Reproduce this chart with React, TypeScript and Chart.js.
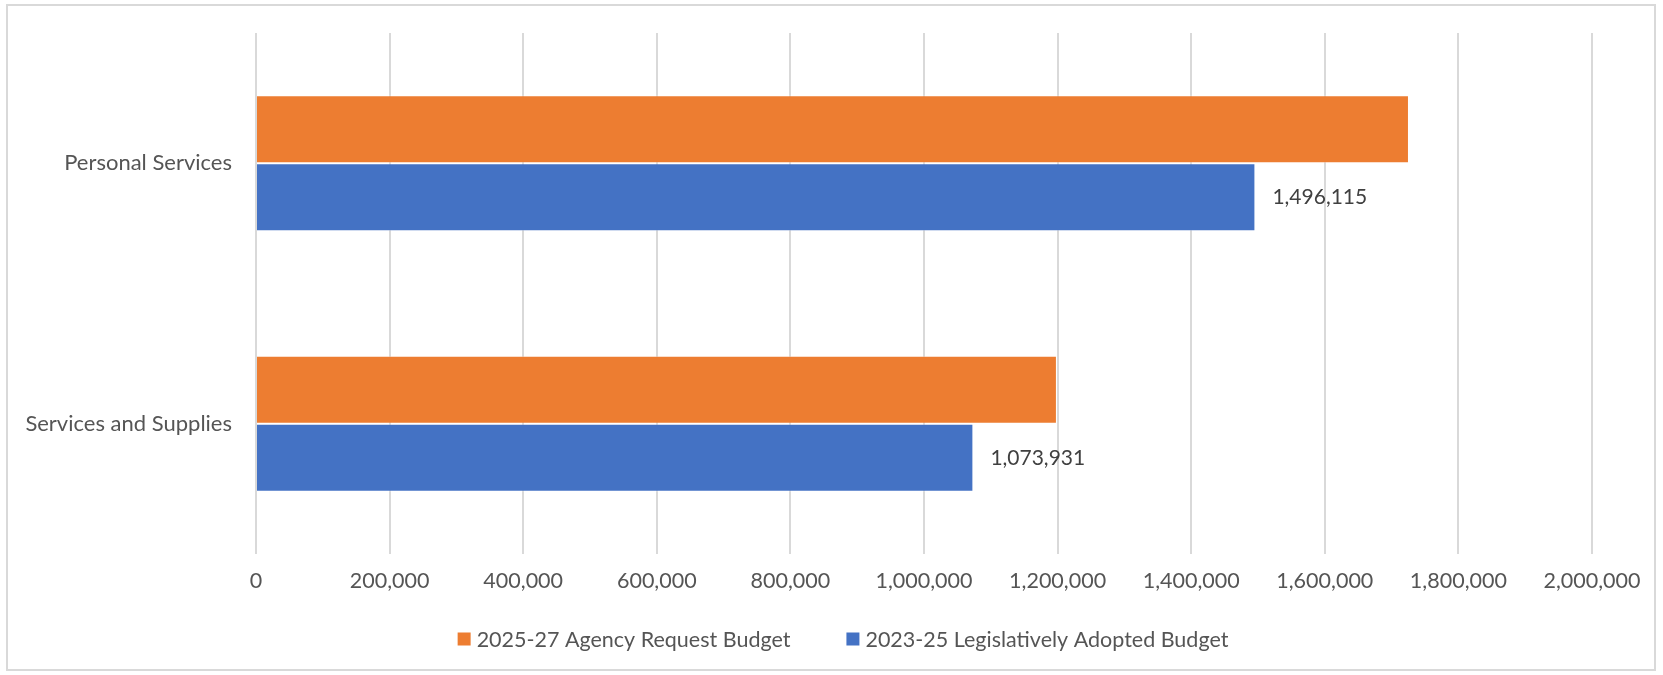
import React, { useEffect, useRef } from 'react';
import { Chart, registerables } from 'chart.js';

Chart.register(...registerables);

const categories = ['Personal Services', 'Services and Supplies'];
const seriesLabels = ['2025-27 Agency Request Budget', '2023-25 Legislatively Adopted Budget'];
const agencyRequest = [1726000, 1199000];
const legislativelyAdopted = [1496115, 1073931];
const axisMin = 0;
const axisMax = 2000000;
const axisStep = 200000;

const orange = '#ED7D31';
const blue = '#4472C4';
const textColor = '#555555';
const gridColor = '#D9D9D9';
const fontFamily = 'Lato, "Open Sans", sans-serif';
const fontSize = 21.5;

const fmt = (v: number) => Number(v).toLocaleString('en-US');

const framePlugin = {
  id: 'frame',
  beforeDraw(chart: any) {
    const { ctx, width, height } = chart;
    ctx.save();
    ctx.fillStyle = '#ffffff';
    ctx.fillRect(0, 0, width, height);
    ctx.strokeStyle = gridColor;
    ctx.lineWidth = 2;
    ctx.strokeRect(7, 5, 1648, 665);
    ctx.restore();
  },
};

const valueLabelPlugin = {
  id: 'valueLabels',
  afterDatasetsDraw(chart: any) {
    const { ctx } = chart;
    const meta = chart.getDatasetMeta(1);
    ctx.save();
    ctx.font = `21px ${fontFamily}`;
    ctx.fillStyle = '#404040';
    ctx.textAlign = 'left';
    ctx.textBaseline = 'middle';
    meta.data.forEach((bar: any, i: number) => {
      const v = chart.data.datasets[1].data[i];
      ctx.fillText(fmt(v), bar.x + 17, bar.y);
    });
    ctx.restore();
  },
};

// Legend drawn with Excel-like spacing (box, small gap, label, wide gap)
const legendPlugin = {
  id: 'excelLegend',
  afterDraw(chart: any) {
    const { ctx } = chart;
    const box = 13;
    const gapBoxText = 6;
    const gapItems = 56;
    const centerX = 843;
    const centerY = chart.chartArea.bottom + 85;
    ctx.save();
    ctx.font = `${fontSize}px ${fontFamily}`;
    ctx.textBaseline = 'middle';
    ctx.textAlign = 'left';
    const items = chart.data.datasets.map((ds: any) => ({
      label: ds.label as string,
      color: ds.backgroundColor as string,
      w: ctx.measureText(ds.label).width,
    }));
    const total =
      items.reduce((s: number, it: any) => s + box + gapBoxText + it.w, 0) +
      gapItems * (items.length - 1);
    let x = centerX - total / 2;
    items.forEach((it: any) => {
      ctx.fillStyle = it.color;
      ctx.fillRect(x, centerY - box / 2, box, box);
      ctx.fillStyle = textColor;
      ctx.fillText(it.label, x + box + gapBoxText, centerY + 1);
      x += box + gapBoxText + it.w + gapItems;
    });
    ctx.restore();
  },
};

export default function App() {
  const ref = useRef<HTMLCanvasElement | null>(null);

  useEffect(() => {
    document.body.style.margin = '0';
    const canvas = ref.current;
    if (!canvas) return;
    const chart = new Chart(canvas, {
      type: 'bar',
      data: {
        labels: categories,
        datasets: [
          {
            label: seriesLabels[0],
            data: agencyRequest,
            backgroundColor: orange,
            borderColor: 'rgba(255,255,255,0.35)',
            borderWidth: 1,
            categoryPercentage: 0.523,
            barPercentage: 1,
          },
          {
            label: seriesLabels[1],
            data: legislativelyAdopted,
            backgroundColor: blue,
            borderColor: 'rgba(255,255,255,0.35)',
            borderWidth: 1,
            categoryPercentage: 0.523,
            barPercentage: 1,
          },
        ],
      },
      plugins: [framePlugin, valueLabelPlugin, legendPlugin],
      options: {
        responsive: false,
        animation: false,
        indexAxis: 'y',
        layout: { padding: { top: 33, right: 71, left: 0, bottom: 81 } },
        scales: {
          x: {
            min: axisMin,
            max: axisMax,
            ticks: {
              stepSize: axisStep,
              color: textColor,
              font: { family: fontFamily, size: fontSize },
              padding: 14,
              callback: (v: any) => fmt(v),
            },
            grid: { color: gridColor, lineWidth: 2, drawTicks: false },
            border: { display: false },
            afterFit: (scale: any) => {
              scale.height = 40;
            },
          },
          y: {
            ticks: {
              color: textColor,
              font: { family: fontFamily, size: 22 },
              padding: 24,
            },
            grid: { display: false, drawTicks: false },
            border: { display: false },
            afterFit: (scale: any) => {
              scale.width = 256;
              scale.paddingTop = 0;
              scale.paddingBottom = 0;
            },
          },
        },
        plugins: {
          legend: { display: false },
          tooltip: { enabled: false },
        },
      },
    });
    return () => chart.destroy();
  }, []);

  return (
    <div style={{ width: 1663, height: 675, overflow: 'hidden' }}>
      <canvas ref={ref} width={1663} height={675} />
    </div>
  );
}
